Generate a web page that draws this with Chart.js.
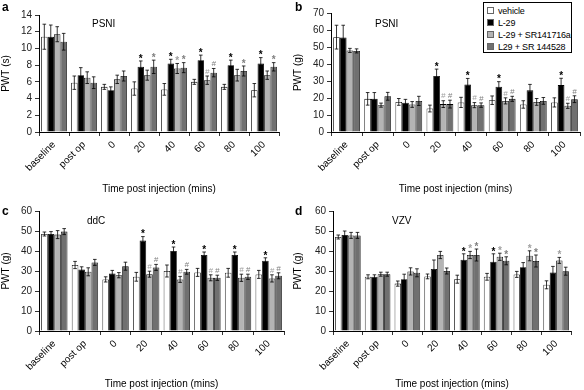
<!DOCTYPE html>
<html>
<head>
<meta charset="utf-8">
<script src="https://cdn.jsdelivr.net/npm/chart.js@4"></script>
<style>
  body { margin: 0; background: #fff; }
  #fig { position: relative; width: 584px; height: 390px; font-family: Arial, "Liberation Sans", sans-serif; }
  .panel { position: absolute; width: 292px; height: 195px; }
  .letter { position: absolute; font-weight: bold; font-size: 12px; }
  .note { position: absolute; font-size: 10px; }
  #legend { position: absolute; left: 483px; top: 2px; width: 89px; height: 51px; border: 1px solid #000; background: #fff; font-size: 9px; letter-spacing: -0.2px; box-sizing: border-box; padding: 2px 0 0 3px; }
  #legend div { height: 12px; line-height: 12px; white-space: nowrap; }
  #legend span { display: inline-block; width: 5px; height: 5px; border: 1px solid #666; margin-right: 4px; vertical-align: 0; }
</style>
</head>
<body>
<div id="fig">
  <div class="panel" style="left:0;top:0"><canvas id="chartA" width="292" height="195"></canvas></div>
  <div class="panel" style="left:292px;top:0"><canvas id="chartB" width="292" height="195"></canvas></div>
  <div class="panel" style="left:0;top:195px"><canvas id="chartC" width="292" height="195"></canvas></div>
  <div class="panel" style="left:292px;top:195px"><canvas id="chartD" width="292" height="195"></canvas></div>

  <div class="letter" style="left:2px;top:0">a</div>
  <div class="letter" style="left:295px;top:0">b</div>
  <div class="letter" style="left:2px;top:204px">c</div>
  <div class="letter" style="left:295px;top:204px">d</div>

  <div class="note" style="left:92px;top:18px">PSNI</div>
  <div class="note" style="left:375px;top:18px">PSNI</div>
  <div class="note" style="left:87px;top:215px">ddC</div>
  <div class="note" style="left:392px;top:215px">VZV</div>

  <div id="legend">
    <div><span style="background:#fff"></span>vehicle</div>
    <div><span style="background:#000"></span>L-29</div>
    <div><span style="background:#b4b4b4"></span>L-29 + SR141716a</div>
    <div><span style="background:#707070"></span>L29 + SR 144528</div>
  </div>
</div>

<script>
// categorias e series
const categories = ['baseline', 'post op', '0', '20', '40', '60', '80', '100'];
const seriesNames = ['vehicle', 'L-29', 'L-29 + SR141716a', 'L29 + SR 144528'];
const seriesColors = ['#ffffff', '#000000', '#b4b4b4', '#707070'];
const markColors = ['#000', '#000', '#a0a0a0', '#808080'];

// painel a - PSNI (s)
const aVehicle = [11.4, 5.9, 5.4, 5.2, 5.1, 6.0, 5.4, 5.0];
const aL29 = [11.4, 6.8, 5.0, 7.8, 8.2, 8.6, 8.0, 8.2];
const aSR141716a = [11.7, 6.5, 6.3, 6.8, 7.6, 6.2, 6.8, 6.8];
const aSR144528 = [10.8, 5.9, 6.7, 7.8, 7.7, 7.1, 7.3, 7.8];
const aErrVehicle = [1.5, 0.8, 0.3, 0.8, 0.7, 0.3, 0.3, 0.8];
const aErrL29 = [1.4, 0.9, 0.4, 0.7, 0.5, 0.6, 0.6, 0.7];
const aErrSR141716a = [0.9, 0.7, 0.5, 0.6, 0.6, 0.5, 0.7, 0.5];
const aErrSR144528 = [1.0, 0.7, 0.6, 0.8, 0.6, 0.5, 0.6, 0.5];
const aMarksL29 = ['', '', '', '*', '*', '*', '*', '*'];
const aMarksSR141716a = ['', '', '', '', '*', '#', '', ''];
const aMarksSR144528 = ['', '', '', '*', '*', '#', '*', '*'];

// painel b - PSNI (g)
const bVehicle = [55.8, 19.5, 17.7, 13.8, 17.4, 18.7, 16.2, 17.4];
const bL29 = [55.6, 19.5, 17.2, 33.0, 28.0, 26.6, 24.5, 27.6];
const bSR141716a = [48.0, 15.8, 16.2, 16.4, 15.8, 18.3, 17.7, 15.4];
const bSR144528 = [47.7, 21.0, 18.3, 16.4, 15.8, 19.5, 18.3, 19.3];
const bErrVehicle = [7.0, 3.7, 2.0, 2.0, 3.0, 2.5, 2.2, 2.7];
const bErrL29 = [7.2, 3.7, 2.0, 4.0, 3.5, 3.0, 3.5, 4.0];
const bErrSR141716a = [1.2, 1.2, 1.7, 2.0, 1.5, 1.8, 2.0, 1.5];
const bErrSR144528 = [1.2, 2.3, 2.7, 2.3, 1.3, 1.5, 2.0, 2.0];
const bMarksL29 = ['', '', '', '*', '*', '*', '', '*'];
const bMarksSR141716a = ['', '', '', '#', '#', '#', '', '#'];
const bMarksSR144528 = ['', '', '', '#', '#', '#', '', '#'];

// painel c - ddC (g)
const cVehicle = [48.5, 33.0, 25.8, 27.1, 30.0, 29.3, 29.1, 28.3];
const cL29 = [48.5, 30.8, 28.8, 45.2, 40.0, 38.0, 38.0, 35.1];
const cSR141716a = [48.2, 29.6, 27.9, 28.4, 25.8, 26.6, 26.6, 26.3];
const cSR144528 = [49.7, 34.3, 32.4, 31.8, 29.6, 26.6, 27.1, 27.6];
const cErrVehicle = [1.0, 1.8, 1.3, 2.2, 3.0, 2.0, 2.2, 2.0];
const cErrL29 = [1.2, 1.3, 1.5, 2.0, 2.0, 1.5, 1.5, 1.5];
const cErrSR141716a = [2.0, 2.0, 1.3, 1.5, 1.5, 1.5, 1.8, 1.8];
const cErrSR144528 = [1.5, 1.5, 2.0, 1.5, 1.2, 1.3, 1.3, 1.5];
const cMarksL29 = ['', '', '', '*', '*', '*', '*', '*'];
const cMarksSR141716a = ['', '', '', '#', '#', '#', '#', '#'];
const cMarksSR144528 = ['', '', '', '#', '#', '#', '#', '#'];

// painel d - VZV (g)
const dVehicle = [47.0, 27.1, 23.7, 27.3, 25.9, 27.1, 28.3, 23.1];
const dL29 = [48.0, 27.1, 25.9, 31.0, 35.6, 34.6, 31.9, 29.3];
const dSR141716a = [47.8, 28.4, 29.8, 38.0, 38.0, 37.1, 37.6, 35.3];
const dSR144528 = [47.8, 28.4, 29.1, 30.0, 38.0, 35.1, 35.0, 29.9];
const dErrVehicle = [1.0, 1.0, 1.3, 1.2, 2.0, 1.7, 1.5, 2.0];
const dErrL29 = [2.0, 1.0, 2.5, 4.5, 3.0, 4.0, 2.3, 3.0];
const dErrSR141716a = [1.5, 1.0, 1.8, 1.8, 1.8, 1.8, 2.5, 1.5];
const dErrSR144528 = [1.5, 1.0, 2.0, 1.5, 3.0, 2.0, 3.0, 2.0];
const dMarksL29 = ['', '', '', '', '*', '*', '', ''];
const dMarksSR141716a = ['', '', '', '', '*', '*', '*', '*'];
const dMarksSR144528 = ['', '', '', '', '*', '*', '*', ''];

const noMarks = ['', '', '', '', '', '', '', ''];
const fontFamily = 'Arial, "Liberation Sans", sans-serif';

// barras de erro + asteriscos / cerquilhas
const errorBarsPlugin = {
  id: 'errorBars',
  afterDatasetsDraw(chart) {
    const ctx = chart.ctx;
    const yScale = chart.scales.y;
    ctx.save();
    chart.data.datasets.forEach((ds, i) => {
      const meta = chart.getDatasetMeta(i);
      meta.data.forEach((bar, j) => {
        const v = ds.data[j];
        const e = ds.errors[j];
        const yTop = yScale.getPixelForValue(v + e);
        const yBot = yScale.getPixelForValue(v - e);
        const x = bar.x;
        ctx.strokeStyle = '#000';
        ctx.lineWidth = 0.8;
        ctx.beginPath();
        ctx.moveTo(x, yTop);
        ctx.lineTo(x, yBot);
        ctx.moveTo(x - 1.8, yTop);
        ctx.lineTo(x + 1.8, yTop);
        ctx.moveTo(x - 1.8, yBot);
        ctx.lineTo(x + 1.8, yBot);
        ctx.stroke();

        const m = ds.marks[j];
        if (m) {
          ctx.fillStyle = markColors[i];
          ctx.textAlign = 'center';
          ctx.textBaseline = 'bottom';
          ctx.font = m === '*' ? 'bold 10px ' + fontFamily : 'italic 8px ' + fontFamily;
          ctx.fillText(m, x, m === '*' ? yTop + 3 : yTop - 0.5);
        }
      });
    });
    ctx.restore();
  },
};

function makePanel(id, values, errors, marks, yMax, yStep, yTitle, pad, yWidth, xHeight) {
  const datasets = values.map((vals, i) => ({
    label: seriesNames[i],
    data: vals,
    errors: errors[i],
    marks: marks[i],
    backgroundColor: seriesColors[i],
    borderColor: '#000',
    borderWidth: 0.8,
    categoryPercentage: 0.86,
    barPercentage: 1.0,
  }));

  new Chart(document.getElementById(id).getContext('2d'), {
    type: 'bar',
    data: { labels: categories, datasets: datasets },
    options: {
      responsive: false,
      animation: false,
      layout: { padding: pad },
      plugins: { legend: { display: false }, tooltip: { enabled: false } },
      scales: {
        x: {
          afterFit: (scale) => { scale.height = xHeight; },
          grid: { offset: true, drawOnChartArea: false, drawTicks: true, tickLength: 4, color: '#000', lineWidth: 0.8 },
          border: { display: true, color: '#000', width: 1 },
          ticks: {
            color: '#000',
            font: { family: fontFamily, size: 10 },
            minRotation: 45,
            maxRotation: 45,
            padding: 3,
            autoSkip: false,
          },
          title: {
            display: true,
            text: 'Time post injection (mins)',
            color: '#000',
            font: { family: fontFamily, size: 10 },
            padding: { top: 1, bottom: 0 },
          },
        },
        y: {
          min: 0,
          max: yMax,
          afterFit: (scale) => { scale.width = yWidth; },
          grid: { drawOnChartArea: false, drawTicks: true, tickLength: 4, color: '#000', lineWidth: 0.8 },
          border: { display: true, color: '#000', width: 1 },
          ticks: {
            stepSize: yStep,
            color: '#222',
            font: { family: fontFamily, size: 10 },
            padding: 3,
          },
          title: {
            display: true,
            text: yTitle,
            color: '#000',
            font: { family: fontFamily, size: 10 },
            padding: { top: 0, bottom: 0 },
          },
        },
      },
    },
    plugins: [errorBarsPlugin],
  });
}

makePanel('chartA',
  [aVehicle, aL29, aSR141716a, aSR144528],
  [aErrVehicle, aErrL29, aErrSR141716a, aErrSR144528],
  [noMarks, aMarksL29, aMarksSR141716a, aMarksSR144528],
  14, 2, 'PWT (s)', { top: 15, right: 13, left: 0, bottom: 0 }, 39, 63);

makePanel('chartB',
  [bVehicle, bL29, bSR141716a, bSR144528],
  [bErrVehicle, bErrL29, bErrSR141716a, bErrSR144528],
  [noMarks, bMarksL29, bMarksSR141716a, bMarksSR144528],
  70, 10, 'PWT (g)', { top: 13, right: 4, left: 0, bottom: 0 }, 39, 63);

makePanel('chartC',
  [cVehicle, cL29, cSR141716a, cSR144528],
  [cErrVehicle, cErrL29, cErrSR141716a, cErrSR144528],
  [noMarks, cMarksL29, cMarksSR141716a, cMarksSR144528],
  60, 10, 'PWT (g)', { top: 16, right: 8, left: 0, bottom: 0 }, 39, 59);

makePanel('chartD',
  [dVehicle, dL29, dSR141716a, dSR144528],
  [dErrVehicle, dErrL29, dErrSR141716a, dErrSR144528],
  [noMarks, dMarksL29, dMarksSR141716a, dMarksSR144528],
  60, 10, 'PWT (g)', { top: 16, right: 13, left: 0, bottom: 0 }, 41, 59);
</script>
</body>
</html>
